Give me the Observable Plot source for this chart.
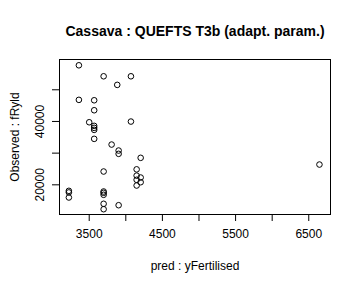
<!DOCTYPE html>
<html><head><meta charset="utf-8">
<script src="https://cdn.jsdelivr.net/npm/d3@7"></script>
<script src="https://cdn.jsdelivr.net/npm/@observablehq/plot@0.6"></script>
<style>body{margin:0;background:#fff;font-family:"Liberation Sans",Arial,sans-serif}</style>
</head><body><div id="chart"></div>
<script>
const title = "Cassava : QUEFTS T3b (adapt. param.)";
const xLabel = "pred : yFertilised";
const yLabel = "Observed : fRyld";
const pred = [3359,3697,4070,3883,3359,3568,3568,3500,4070,3568,3568,3568,3568,3806,3902,3902,4203,3697,4148,4148,4203,4148,4203,4148,6646,3222,3222,3222,3697,3697,3697,3697,3697,3902];
const obs  = [57730,54260,54260,51550,46820,46690,43540,39750,39970,38610,37980,37350,34510,32710,30820,29780,28520,24200,24880,22900,22300,21580,20820,19780,26400,18100,17600,16000,17890,17480,16850,14010,12300,13560];
const xTicks = [3500,4000,4500,5000,5500,6000,6500];
const xTickLabels = [3500,4500,5500,6500];
const yTicks = [20000,30000,40000,50000];
const yTickLabels = [20000,40000];

const data = pred.map((p,i)=>({pred:p, obs:obs[i]}));
const xDom = [3094, 6797], yDom = [10630, 59560];

const plot = Plot.plot({
  width: 360, height: 288,
  marginLeft: 59, marginRight: 30, marginTop: 59, marginBottom: 74,
  style: {fontFamily: '"Liberation Sans", Arial, sans-serif', fontSize: "12px", color: "black", background: "white"},
  x: {domain: xDom},
  y: {domain: yDom},
  marks: [
    Plot.frame({stroke: "black"}),
    Plot.axisX({ticks: xTicks, tickSize: 7, tickFormat: d => xTickLabels.includes(d) ? String(d) : "", tickPadding: 8, fontSize: 12, label: null}),
    Plot.ruleY([yDom[0]], {x1: xTicks[0], x2: xTicks[xTicks.length-1], stroke: "black"}),
    Plot.axisY({ticks: yTicks, tickSize: 7, tickFormat: () => "", label: null}),
    Plot.ruleX([xDom[0]], {y1: yTicks[0], y2: yTicks[yTicks.length-1], stroke: "black"}),
    Plot.text(yTickLabels, {y: d => d, frameAnchor: "left", dx: -19, rotate: -90, textAnchor: "middle", lineAnchor: "middle", text: d => String(d), fontSize: 12}),
    Plot.dot(data, {x: "pred", y: "obs", r: 2.8, stroke: "black", strokeWidth: 1, fill: "none"}),
    Plot.text([title], {frameAnchor: "top", dy: -28, textAnchor: "middle", lineAnchor: "middle", fontWeight: "bold", fontSize: 14, text: d => d}),
    Plot.text([xLabel], {frameAnchor: "bottom", dy: 52, textAnchor: "middle", lineAnchor: "middle", fontSize: 12, text: d => d}),
    Plot.text([yLabel], {frameAnchor: "left", dx: -44, rotate: -90, textAnchor: "middle", lineAnchor: "middle", fontSize: 12, text: d => d})
  ]
});
document.getElementById("chart").appendChild(plot);
</script></body></html>
